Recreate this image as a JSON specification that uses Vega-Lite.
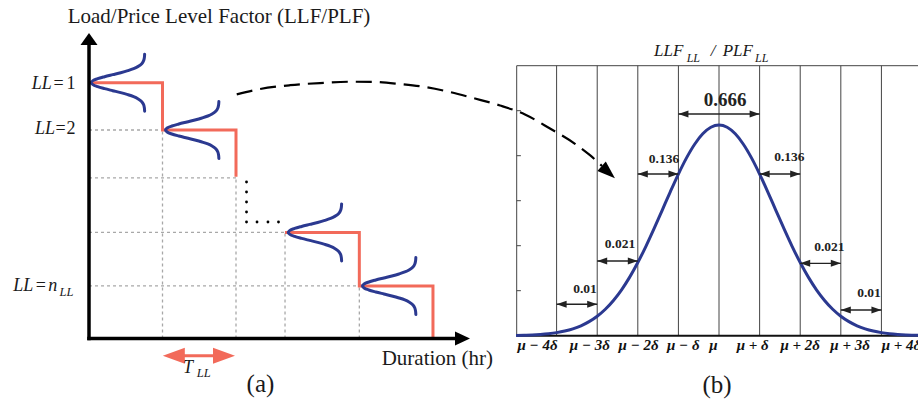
{
  "$schema": "https://vega.github.io/schema/vega-lite/v6.json",
  "padding": 0,
  "spacing": 0,
  "bounds": "flush",
  "background": "white",
  "config": {"view": {"stroke": null}, "font": "Liberation Serif", "text": {"font": "Liberation Serif"}},
  "hconcat": [
    {
      "width": 505,
      "height": 403,
      "layer": [
        {
          "data": {"values": [
            {"x": 0, "x2": 1.0, "y": 4.01, "y2": 4.01},
            {"x": 0, "x2": 2.0, "y": 3.09, "y2": 3.09},
            {"x": 0, "x2": 2.667, "y": 2.04, "y2": 2.04},
            {"x": 0, "x2": 3.678, "y": 1.01, "y2": 1.01},
            {"x": 1.0, "x2": 1.0, "y": 0, "y2": 4.01},
            {"x": 2.0, "x2": 2.0, "y": 0, "y2": 3.09},
            {"x": 2.667, "x2": 2.667, "y": 0, "y2": 2.04},
            {"x": 3.678, "x2": 3.678, "y": 0, "y2": 1.01}
          ]},
          "mark": {"type": "rule", "color": "#a8a8a8", "strokeWidth": 1.3, "strokeDash": [3, 3]},
          "encoding": {
            "x": {"field": "x", "type": "quantitative", "scale": {"domain": [-1.211, 5.66], "nice": false, "zero": false}, "axis": null},
            "x2": {"field": "x2"},
            "y": {"field": "y", "type": "quantitative", "scale": {"domain": [-1.241, 6.51], "nice": false, "zero": false}, "axis": null},
            "y2": {"field": "y2"}
          }
        },
        {
          "data": {"values": [
            {"s": 1, "i": 0, "x": 0, "y": 4.92},
            {"s": 1, "i": 1, "x": 1.0, "y": 4.92},
            {"s": 1, "i": 2, "x": 1.0, "y": 4.01},
            {"s": 1, "i": 3, "x": 2.0, "y": 4.01},
            {"s": 1, "i": 4, "x": 2.0, "y": 3.11},
            {"s": 2, "i": 0, "x": 2.667, "y": 2.04},
            {"s": 2, "i": 1, "x": 3.678, "y": 2.04},
            {"s": 2, "i": 2, "x": 3.678, "y": 1.01},
            {"s": 2, "i": 3, "x": 4.68, "y": 1.01},
            {"s": 2, "i": 4, "x": 4.68, "y": 0}
          ]},
          "mark": {"type": "line", "color": "#f26a5a", "strokeWidth": 3, "strokeJoin": "miter"},
          "encoding": {
            "x": {"field": "x", "type": "quantitative", "scale": {"domain": [-1.211, 5.66], "nice": false, "zero": false}, "axis": null},
            "y": {"field": "y", "type": "quantitative", "scale": {"domain": [-1.241, 6.51], "nice": false, "zero": false}, "axis": null},
            "detail": {"field": "s", "type": "nominal"},
            "order": {"field": "i", "type": "quantitative"}
          }
        },
        {
          "data": {"values": [
            {"c": 1, "i": 0, "x": 0.757, "y": 5.468}, {"c": 1, "i": 1, "x": 0.753, "y": 5.401}, {"c": 1, "i": 2, "x": 0.743, "y": 5.343}, {"c": 1, "i": 3, "x": 0.718, "y": 5.285}, {"c": 1, "i": 4, "x": 0.664, "y": 5.228},
            {"c": 1, "i": 5, "x": 0.607, "y": 5.189}, {"c": 1, "i": 6, "x": 0.528, "y": 5.151}, {"c": 1, "i": 7, "x": 0.431, "y": 5.112}, {"c": 1, "i": 8, "x": 0.322, "y": 5.074}, {"c": 1, "i": 9, "x": 0.212, "y": 5.035},
            {"c": 1, "i": 10, "x": 0.118, "y": 4.997}, {"c": 1, "i": 11, "x": 0.053, "y": 4.959}, {"c": 1, "i": 12, "x": 0.03, "y": 4.92}, {"c": 1, "i": 13, "x": 0.053, "y": 4.882}, {"c": 1, "i": 14, "x": 0.118, "y": 4.843},
            {"c": 1, "i": 15, "x": 0.212, "y": 4.805}, {"c": 1, "i": 16, "x": 0.322, "y": 4.766}, {"c": 1, "i": 17, "x": 0.431, "y": 4.728}, {"c": 1, "i": 18, "x": 0.528, "y": 4.689}, {"c": 1, "i": 19, "x": 0.607, "y": 4.651},
            {"c": 1, "i": 20, "x": 0.664, "y": 4.612}, {"c": 1, "i": 21, "x": 0.718, "y": 4.555}, {"c": 1, "i": 22, "x": 0.743, "y": 4.497}, {"c": 1, "i": 23, "x": 0.753, "y": 4.439}, {"c": 1, "i": 24, "x": 0.757, "y": 4.372},

            {"c": 2, "i": 0, "x": 1.767, "y": 4.558}, {"c": 2, "i": 1, "x": 1.763, "y": 4.491}, {"c": 2, "i": 2, "x": 1.753, "y": 4.433}, {"c": 2, "i": 3, "x": 1.728, "y": 4.375}, {"c": 2, "i": 4, "x": 1.674, "y": 4.318},
            {"c": 2, "i": 5, "x": 1.617, "y": 4.279}, {"c": 2, "i": 6, "x": 1.538, "y": 4.241}, {"c": 2, "i": 7, "x": 1.441, "y": 4.202}, {"c": 2, "i": 8, "x": 1.332, "y": 4.164}, {"c": 2, "i": 9, "x": 1.222, "y": 4.125},
            {"c": 2, "i": 10, "x": 1.128, "y": 4.087}, {"c": 2, "i": 11, "x": 1.063, "y": 4.049}, {"c": 2, "i": 12, "x": 1.04, "y": 4.01}, {"c": 2, "i": 13, "x": 1.063, "y": 3.972}, {"c": 2, "i": 14, "x": 1.128, "y": 3.933},
            {"c": 2, "i": 15, "x": 1.222, "y": 3.895}, {"c": 2, "i": 16, "x": 1.332, "y": 3.856}, {"c": 2, "i": 17, "x": 1.441, "y": 3.818}, {"c": 2, "i": 18, "x": 1.538, "y": 3.779}, {"c": 2, "i": 19, "x": 1.617, "y": 3.741},
            {"c": 2, "i": 20, "x": 1.674, "y": 3.702}, {"c": 2, "i": 21, "x": 1.728, "y": 3.645}, {"c": 2, "i": 22, "x": 1.753, "y": 3.587}, {"c": 2, "i": 23, "x": 1.763, "y": 3.529}, {"c": 2, "i": 24, "x": 1.767, "y": 3.462},

            {"c": 3, "i": 0, "x": 3.437, "y": 2.588}, {"c": 3, "i": 1, "x": 3.433, "y": 2.521}, {"c": 3, "i": 2, "x": 3.423, "y": 2.463}, {"c": 3, "i": 3, "x": 3.398, "y": 2.405}, {"c": 3, "i": 4, "x": 3.344, "y": 2.348},
            {"c": 3, "i": 5, "x": 3.287, "y": 2.309}, {"c": 3, "i": 6, "x": 3.208, "y": 2.271}, {"c": 3, "i": 7, "x": 3.111, "y": 2.232}, {"c": 3, "i": 8, "x": 3.002, "y": 2.194}, {"c": 3, "i": 9, "x": 2.892, "y": 2.155},
            {"c": 3, "i": 10, "x": 2.798, "y": 2.117}, {"c": 3, "i": 11, "x": 2.733, "y": 2.079}, {"c": 3, "i": 12, "x": 2.71, "y": 2.04}, {"c": 3, "i": 13, "x": 2.733, "y": 2.002}, {"c": 3, "i": 14, "x": 2.798, "y": 1.963},
            {"c": 3, "i": 15, "x": 2.892, "y": 1.925}, {"c": 3, "i": 16, "x": 3.002, "y": 1.886}, {"c": 3, "i": 17, "x": 3.111, "y": 1.848}, {"c": 3, "i": 18, "x": 3.208, "y": 1.809}, {"c": 3, "i": 19, "x": 3.287, "y": 1.771},
            {"c": 3, "i": 20, "x": 3.344, "y": 1.732}, {"c": 3, "i": 21, "x": 3.398, "y": 1.675}, {"c": 3, "i": 22, "x": 3.423, "y": 1.617}, {"c": 3, "i": 23, "x": 3.433, "y": 1.559}, {"c": 3, "i": 24, "x": 3.437, "y": 1.492},

            {"c": 4, "i": 0, "x": 4.447, "y": 1.558}, {"c": 4, "i": 1, "x": 4.443, "y": 1.491}, {"c": 4, "i": 2, "x": 4.433, "y": 1.433}, {"c": 4, "i": 3, "x": 4.408, "y": 1.375}, {"c": 4, "i": 4, "x": 4.354, "y": 1.318},
            {"c": 4, "i": 5, "x": 4.297, "y": 1.279}, {"c": 4, "i": 6, "x": 4.218, "y": 1.241}, {"c": 4, "i": 7, "x": 4.121, "y": 1.202}, {"c": 4, "i": 8, "x": 4.012, "y": 1.164}, {"c": 4, "i": 9, "x": 3.902, "y": 1.125},
            {"c": 4, "i": 10, "x": 3.808, "y": 1.087}, {"c": 4, "i": 11, "x": 3.743, "y": 1.049}, {"c": 4, "i": 12, "x": 3.72, "y": 1.01}, {"c": 4, "i": 13, "x": 3.743, "y": 0.972}, {"c": 4, "i": 14, "x": 3.808, "y": 0.933},
            {"c": 4, "i": 15, "x": 3.902, "y": 0.895}, {"c": 4, "i": 16, "x": 4.012, "y": 0.856}, {"c": 4, "i": 17, "x": 4.121, "y": 0.818}, {"c": 4, "i": 18, "x": 4.218, "y": 0.779}, {"c": 4, "i": 19, "x": 4.297, "y": 0.741},
            {"c": 4, "i": 20, "x": 4.354, "y": 0.702}, {"c": 4, "i": 21, "x": 4.408, "y": 0.645}, {"c": 4, "i": 22, "x": 4.433, "y": 0.587}, {"c": 4, "i": 23, "x": 4.443, "y": 0.529}, {"c": 4, "i": 24, "x": 4.447, "y": 0.462}
          ]},
          "mark": {"type": "line", "color": "#2b3990", "strokeWidth": 3, "strokeCap": "round", "interpolate": "catmull-rom"},
          "encoding": {
            "x": {"field": "x", "type": "quantitative", "scale": {"domain": [-1.211, 5.66], "nice": false, "zero": false}, "axis": null},
            "y": {"field": "y", "type": "quantitative", "scale": {"domain": [-1.241, 6.51], "nice": false, "zero": false}, "axis": null},
            "detail": {"field": "c", "type": "nominal"},
            "order": {"field": "i", "type": "quantitative"}
          }
        },
        {
          "data": {"values": [
            {"x": 2.143, "y": 3.010}, {"x": 2.143, "y": 2.817}, {"x": 2.143, "y": 2.625}, {"x": 2.143, "y": 2.433},
            {"x": 2.143, "y": 2.240}, {"x": 2.286, "y": 2.240}, {"x": 2.435, "y": 2.240}, {"x": 2.578, "y": 2.240}
          ]},
          "mark": {"type": "point", "filled": true, "color": "#000000", "size": 8, "opacity": 1},
          "encoding": {
            "x": {"field": "x", "type": "quantitative", "scale": {"domain": [-1.211, 5.66], "nice": false, "zero": false}, "axis": null},
            "y": {"field": "y", "type": "quantitative", "scale": {"domain": [-1.241, 6.51], "nice": false, "zero": false}, "axis": null}
          }
        },
        {
          "data": {"values": [
            {"x": -0.024, "x2": 5.0, "y": 0, "y2": 0},
            {"x": 0, "x2": 0, "y": -0.034, "y2": 5.7}
          ]},
          "mark": {"type": "rule", "color": "#000000", "strokeWidth": 3.5},
          "encoding": {
            "x": {"field": "x", "type": "quantitative", "scale": {"domain": [-1.211, 5.66], "nice": false, "zero": false}, "axis": null},
            "x2": {"field": "x2"},
            "y": {"field": "y", "type": "quantitative", "scale": {"domain": [-1.241, 6.51], "nice": false, "zero": false}, "axis": null},
            "y2": {"field": "y2"}
          }
        },
        {
          "data": {"values": [{"x": 0, "y": 5.875}]},
          "mark": {"type": "point", "filled": true, "color": "#000000", "opacity": 1, "shape": "M0,0L-1.42,2L1.42,2Z", "size": 144},
          "encoding": {
            "x": {"field": "x", "type": "quantitative", "scale": {"domain": [-1.211, 5.66], "nice": false, "zero": false}, "axis": null},
            "y": {"field": "y", "type": "quantitative", "scale": {"domain": [-1.241, 6.51], "nice": false, "zero": false}, "axis": null}
          }
        },
        {
          "data": {"values": [{"x": 5.184, "y": 0}]},
          "mark": {"type": "point", "filled": true, "color": "#000000", "opacity": 1, "shape": "M0,0L-2,-0.93L-2,0.93Z", "size": 225},
          "encoding": {
            "x": {"field": "x", "type": "quantitative", "scale": {"domain": [-1.211, 5.66], "nice": false, "zero": false}, "axis": null},
            "y": {"field": "y", "type": "quantitative", "scale": {"domain": [-1.241, 6.51], "nice": false, "zero": false}, "axis": null}
          }
        },
        {
          "data": {"values": [{"x": 1.15, "x2": 1.84, "y": -0.331}]},
          "mark": {"type": "rule", "color": "#f26a5a", "strokeWidth": 3},
          "encoding": {
            "x": {"field": "x", "type": "quantitative", "scale": {"domain": [-1.211, 5.66], "nice": false, "zero": false}, "axis": null},
            "x2": {"field": "x2"},
            "y": {"field": "y", "type": "quantitative", "scale": {"domain": [-1.241, 6.51], "nice": false, "zero": false}, "axis": null}
          }
        },
        {
          "data": {"values": [{"x": 1.004, "y": -0.331}]},
          "mark": {"type": "point", "filled": true, "color": "#f26a5a", "opacity": 1, "shape": "M0,0L2,-0.73L2,0.73Z", "size": 484},
          "encoding": {
            "x": {"field": "x", "type": "quantitative", "scale": {"domain": [-1.211, 5.66], "nice": false, "zero": false}, "axis": null},
            "y": {"field": "y", "type": "quantitative", "scale": {"domain": [-1.241, 6.51], "nice": false, "zero": false}, "axis": null}
          }
        },
        {
          "data": {"values": [{"x": 1.986, "y": -0.331}]},
          "mark": {"type": "point", "filled": true, "color": "#f26a5a", "opacity": 1, "shape": "M0,0L-2,-0.73L-2,0.73Z", "size": 484},
          "encoding": {
            "x": {"field": "x", "type": "quantitative", "scale": {"domain": [-1.211, 5.66], "nice": false, "zero": false}, "axis": null},
            "y": {"field": "y", "type": "quantitative", "scale": {"domain": [-1.241, 6.51], "nice": false, "zero": false}, "axis": null}
          }
        },
        {
          "data": {"values": [
            {"x": 2.010, "y": 4.696}, {"x": 2.327, "y": 4.798}, {"x": 2.735, "y": 4.871}, {"x": 3.143, "y": 4.913},
            {"x": 3.551, "y": 4.938}, {"x": 3.891, "y": 4.933}, {"x": 4.231, "y": 4.894}, {"x": 4.571, "y": 4.837},
            {"x": 4.912, "y": 4.740}, {"x": 5.252, "y": 4.615}, {"x": 5.592, "y": 4.481}, {"x": 5.932, "y": 4.308},
            {"x": 6.272, "y": 4.038}, {"x": 6.612, "y": 3.744}, {"x": 6.816, "y": 3.525}, {"x": 6.980, "y": 3.317}
          ]},
          "mark": {"type": "line", "color": "#000000", "strokeWidth": 2.2, "strokeDash": [16, 8], "interpolate": "monotone", "clip": false},
          "encoding": {
            "x": {"field": "x", "type": "quantitative", "scale": {"domain": [-1.211, 5.66], "nice": false, "zero": false}, "axis": null},
            "y": {"field": "y", "type": "quantitative", "scale": {"domain": [-1.241, 6.51], "nice": false, "zero": false}, "axis": null}
          }
        },
        {
          "data": {"values": [{"x": 7.156, "y": 3.081}]},
          "mark": {"type": "point", "filled": true, "color": "#000000", "opacity": 1, "shape": "M0,0L-2,-0.7L-2,0.7Z", "size": 324, "angle": 42, "clip": false},
          "encoding": {
            "x": {"field": "x", "type": "quantitative", "scale": {"domain": [-1.211, 5.66], "nice": false, "zero": false}, "axis": null},
            "y": {"field": "y", "type": "quantitative", "scale": {"domain": [-1.241, 6.51], "nice": false, "zero": false}, "axis": null}
          }
        },
        {
          "data": {"values": [
            {"t": "Load/Price Level Factor (LLF/PLF)", "x": -0.29, "y": 6.067},
            {"t": "Duration (hr)", "x": 3.982, "y": -0.51}
          ]},
          "mark": {"type": "text", "align": "left", "baseline": "alphabetic", "fontSize": 21, "font": "Liberation Serif", "color": "#1a1a1a"},
          "encoding": {
            "x": {"field": "x", "type": "quantitative", "scale": {"domain": [-1.211, 5.66], "nice": false, "zero": false}, "axis": null},
            "y": {"field": "y", "type": "quantitative", "scale": {"domain": [-1.241, 6.51], "nice": false, "zero": false}, "axis": null},
            "text": {"field": "t"}
          }
        },
        {
          "data": {"values": [
            {"t": "LL", "x": -0.508, "y": 4.792},
            {"t": "LL", "x": -0.463, "y": 3.942},
            {"t": "LL", "x": -0.759, "y": 0.913}
          ]},
          "mark": {"type": "text", "align": "right", "baseline": "alphabetic", "fontSize": 18, "fontStyle": "italic", "font": "Liberation Serif", "color": "#1a1a1a"},
          "encoding": {
            "x": {"field": "x", "type": "quantitative", "scale": {"domain": [-1.211, 5.66], "nice": false, "zero": false}, "axis": null},
            "y": {"field": "y", "type": "quantitative", "scale": {"domain": [-1.241, 6.51], "nice": false, "zero": false}, "axis": null},
            "text": {"field": "t"}
          }
        },
        {
          "data": {"values": [
            {"t": "=", "x": -0.415, "y": 4.792},
            {"t": "1", "x": -0.245, "y": 4.792},
            {"t": "=", "x": -0.388, "y": 3.942},
            {"t": "2", "x": -0.245, "y": 3.942},
            {"t": "=", "x": -0.655, "y": 0.913}
          ]},
          "mark": {"type": "text", "align": "center", "baseline": "alphabetic", "fontSize": 18, "font": "Liberation Serif", "color": "#1a1a1a"},
          "encoding": {
            "x": {"field": "x", "type": "quantitative", "scale": {"domain": [-1.211, 5.66], "nice": false, "zero": false}, "axis": null},
            "y": {"field": "y", "type": "quantitative", "scale": {"domain": [-1.241, 6.51], "nice": false, "zero": false}, "axis": null},
            "text": {"field": "t"}
          }
        },
        {
          "data": {"values": [
            {"t": "n", "x": -0.555, "y": 0.913},
            {"t": "T", "x": 1.279, "y": -0.669}
          ]},
          "mark": {"type": "text", "align": "left", "baseline": "alphabetic", "fontSize": 18, "fontStyle": "italic", "font": "Liberation Serif", "color": "#1a1a1a"},
          "encoding": {
            "x": {"field": "x", "type": "quantitative", "scale": {"domain": [-1.211, 5.66], "nice": false, "zero": false}, "axis": null},
            "y": {"field": "y", "type": "quantitative", "scale": {"domain": [-1.241, 6.51], "nice": false, "zero": false}, "axis": null},
            "text": {"field": "t"}
          }
        },
        {
          "data": {"values": [
            {"t": "LL", "x": -0.401, "y": 0.808},
            {"t": "LL", "x": 1.465, "y": -0.735}
          ]},
          "mark": {"type": "text", "align": "left", "baseline": "alphabetic", "fontSize": 12.5, "fontStyle": "italic", "font": "Liberation Serif", "color": "#1a1a1a"},
          "encoding": {
            "x": {"field": "x", "type": "quantitative", "scale": {"domain": [-1.211, 5.66], "nice": false, "zero": false}, "axis": null},
            "y": {"field": "y", "type": "quantitative", "scale": {"domain": [-1.241, 6.51], "nice": false, "zero": false}, "axis": null},
            "text": {"field": "t"}
          }
        },
        {
          "data": {"values": [{"t": "(a)", "x": 2.333, "y": -1.023}]},
          "mark": {"type": "text", "align": "center", "baseline": "alphabetic", "fontSize": 25, "font": "Liberation Serif", "color": "#1a1a1a"},
          "encoding": {
            "x": {"field": "x", "type": "quantitative", "scale": {"domain": [-1.211, 5.66], "nice": false, "zero": false}, "axis": null},
            "y": {"field": "y", "type": "quantitative", "scale": {"domain": [-1.241, 6.51], "nice": false, "zero": false}, "axis": null},
            "text": {"field": "t"}
          }
        }
      ]
    },
    {
      "width": 413,
      "height": 403,
      "layer": [
        {
          "data": {"values": [
            {"x": -4, "y": 0, "y2": 0.6}, {"x": -3, "y": 0, "y2": 0.6}, {"x": -2, "y": 0, "y2": 0.6},
            {"x": -1, "y": 0, "y2": 0.6}, {"x": 0, "y": 0, "y2": 0.6}, {"x": 1, "y": 0, "y2": 0.6},
            {"x": 2, "y": 0, "y2": 0.6}, {"x": 3, "y": 0, "y2": 0.6}, {"x": 4, "y": 0, "y2": 0.6},
            {"x": -4.983, "y": 0, "y2": 0.6}
          ]},
          "mark": {"type": "rule", "color": "#444444", "strokeWidth": 1},
          "encoding": {
            "x": {"field": "x", "type": "quantitative", "scale": {"domain": [-5.271, 4.901], "nice": false, "zero": false}, "axis": null},
            "y": {"field": "y", "type": "quantitative", "scale": {"domain": [-0.1496, 0.746], "nice": false, "zero": false}, "axis": null},
            "y2": {"field": "y2"}
          }
        },
        {
          "data": {"values": [
            {"x": -4.983, "x2": 4.901, "y": 0.6},
            {"x": -4.983, "x2": -4.88, "y": 0.1},
            {"x": -4.983, "x2": -4.88, "y": 0.2},
            {"x": -4.983, "x2": -4.88, "y": 0.3},
            {"x": -4.983, "x2": -4.88, "y": 0.4},
            {"x": -4.983, "x2": -4.88, "y": 0.5}
          ]},
          "mark": {"type": "rule", "color": "#444444", "strokeWidth": 1},
          "encoding": {
            "x": {"field": "x", "type": "quantitative", "scale": {"domain": [-5.271, 4.901], "nice": false, "zero": false}, "axis": null},
            "x2": {"field": "x2"},
            "y": {"field": "y", "type": "quantitative", "scale": {"domain": [-0.1496, 0.746], "nice": false, "zero": false}, "axis": null}
          }
        },
        {
          "data": {"values": [{"x": -4.983, "x2": 4.901, "y": 0}]},
          "mark": {"type": "rule", "color": "#111111", "strokeWidth": 2},
          "encoding": {
            "x": {"field": "x", "type": "quantitative", "scale": {"domain": [-5.271, 4.901], "nice": false, "zero": false}, "axis": null},
            "x2": {"field": "x2"},
            "y": {"field": "y", "type": "quantitative", "scale": {"domain": [-0.1496, 0.746], "nice": false, "zero": false}, "axis": null}
          }
        },
        {
          "data": {"values": [
            {"x": -5.0, "y": 0.0006}, {"x": -4.8, "y": 0.0011}, {"x": -4.6, "y": 0.0017}, {"x": -4.4, "y": 0.0028}, {"x": -4.2, "y": 0.0044},
            {"x": -4.0, "y": 0.0068}, {"x": -3.8, "y": 0.0103}, {"x": -3.6, "y": 0.0152}, {"x": -3.4, "y": 0.022}, {"x": -3.2, "y": 0.0312},
            {"x": -3.0, "y": 0.0433}, {"x": -2.8, "y": 0.0588}, {"x": -2.6, "y": 0.0783}, {"x": -2.4, "y": 0.102}, {"x": -2.2, "y": 0.1301},
            {"x": -2.0, "y": 0.1625}, {"x": -1.8, "y": 0.1986}, {"x": -1.6, "y": 0.2378}, {"x": -1.4, "y": 0.2787}, {"x": -1.2, "y": 0.3198},
            {"x": -1.0, "y": 0.3592}, {"x": -0.8, "y": 0.3951}, {"x": -0.6, "y": 0.4255}, {"x": -0.4, "y": 0.4486}, {"x": -0.2, "y": 0.4631},
            {"x": 0.0, "y": 0.468},
            {"x": 0.2, "y": 0.4631}, {"x": 0.4, "y": 0.4486}, {"x": 0.6, "y": 0.4255}, {"x": 0.8, "y": 0.3951}, {"x": 1.0, "y": 0.3592},
            {"x": 1.2, "y": 0.3198}, {"x": 1.4, "y": 0.2787}, {"x": 1.6, "y": 0.2378}, {"x": 1.8, "y": 0.1986}, {"x": 2.0, "y": 0.1625},
            {"x": 2.2, "y": 0.1301}, {"x": 2.4, "y": 0.102}, {"x": 2.6, "y": 0.0783}, {"x": 2.8, "y": 0.0588}, {"x": 3.0, "y": 0.0433},
            {"x": 3.2, "y": 0.0312}, {"x": 3.4, "y": 0.022}, {"x": 3.6, "y": 0.0152}, {"x": 3.8, "y": 0.0103}, {"x": 4.0, "y": 0.0068},
            {"x": 4.2, "y": 0.0044}, {"x": 4.4, "y": 0.0028}, {"x": 4.6, "y": 0.0017}, {"x": 4.8, "y": 0.0011}, {"x": 5.0, "y": 0.0006}
          ]},
          "mark": {"type": "line", "color": "#2b3990", "strokeWidth": 3, "interpolate": "monotone", "clip": true},
          "encoding": {
            "x": {"field": "x", "type": "quantitative", "scale": {"domain": [-5.271, 4.901], "nice": false, "zero": false}, "axis": null},
            "y": {"field": "y", "type": "quantitative", "scale": {"domain": [-0.1496, 0.746], "nice": false, "zero": false}, "axis": null}
          }
        },
        {
          "data": {"name": "spans", "values": [
            {"x": -1, "x2": 1, "y": 0.4927},
            {"x": -2, "x2": -1, "y": 0.3593},
            {"x": 1, "x2": 2, "y": 0.3593},
            {"x": -3, "x2": -2, "y": 0.166},
            {"x": 2, "x2": 3, "y": 0.1609},
            {"x": -4, "x2": -3, "y": 0.0698},
            {"x": 3, "x2": 4, "y": 0.0571}
          ]},
          "layer": [
            {
              "mark": {"type": "rule", "color": "#222222", "strokeWidth": 1.3},
              "encoding": {
                "x": {"field": "x", "type": "quantitative", "scale": {"domain": [-5.271, 4.901], "nice": false, "zero": false}, "axis": null},
                "x2": {"field": "x2"},
                "y": {"field": "y", "type": "quantitative", "scale": {"domain": [-0.1496, 0.746], "nice": false, "zero": false}, "axis": null}
              }
            },
            {
              "mark": {"type": "point", "filled": true, "color": "#222222", "opacity": 1, "shape": "M0,0L2,-0.7L2,0.7Z", "size": 100},
              "encoding": {
                "x": {"field": "x", "type": "quantitative", "scale": {"domain": [-5.271, 4.901], "nice": false, "zero": false}, "axis": null},
                "y": {"field": "y", "type": "quantitative", "scale": {"domain": [-0.1496, 0.746], "nice": false, "zero": false}, "axis": null}
              }
            },
            {
              "mark": {"type": "point", "filled": true, "color": "#222222", "opacity": 1, "shape": "M0,0L-2,-0.7L-2,0.7Z", "size": 100},
              "encoding": {
                "x": {"field": "x2", "type": "quantitative", "scale": {"domain": [-5.271, 4.901], "nice": false, "zero": false}, "axis": null},
                "y": {"field": "y", "type": "quantitative", "scale": {"domain": [-0.1496, 0.746], "nice": false, "zero": false}, "axis": null}
              }
            }
          ]
        },
        {
          "data": {"values": [{"t": "0.666", "x": 0.148, "y": 0.5104}]},
          "mark": {"type": "text", "align": "center", "baseline": "alphabetic", "fontSize": 19, "fontWeight": "bold", "font": "Liberation Serif", "color": "#222222"},
          "encoding": {
            "x": {"field": "x", "type": "quantitative", "scale": {"domain": [-5.271, 4.901], "nice": false, "zero": false}, "axis": null},
            "y": {"field": "y", "type": "quantitative", "scale": {"domain": [-0.1496, 0.746], "nice": false, "zero": false}, "axis": null},
            "text": {"field": "t"}
          }
        },
        {
          "data": {"values": [
            {"t": "0.136", "x": -1.355, "y": 0.3844},
            {"t": "0.136", "x": 1.732, "y": 0.3889},
            {"t": "0.021", "x": -2.438, "y": 0.1942},
            {"t": "0.021", "x": 2.717, "y": 0.1889},
            {"t": "0.01", "x": -3.3, "y": 0.0956},
            {"t": "0.01", "x": 3.695, "y": 0.0867}
          ]},
          "mark": {"type": "text", "align": "center", "baseline": "alphabetic", "fontSize": 13.5, "fontWeight": "bold", "font": "Liberation Serif", "color": "#222222"},
          "encoding": {
            "x": {"field": "x", "type": "quantitative", "scale": {"domain": [-5.271, 4.901], "nice": false, "zero": false}, "axis": null},
            "y": {"field": "y", "type": "quantitative", "scale": {"domain": [-0.1496, 0.746], "nice": false, "zero": false}, "axis": null},
            "text": {"field": "t"}
          }
        },
        {
          "data": {"values": [
            {"t": "μ − 4δ", "x": -4.47, "y": -0.0318},
            {"t": "μ − 3δ", "x": -3.18, "y": -0.0318},
            {"t": "μ − 2δ", "x": -1.98, "y": -0.0318},
            {"t": "μ − δ", "x": -0.88, "y": -0.0318},
            {"t": "μ", "x": -0.14, "y": -0.0318},
            {"t": "μ + δ", "x": 0.83, "y": -0.0318},
            {"t": "μ + 2δ", "x": 2.0, "y": -0.0318},
            {"t": "μ + 3δ", "x": 3.23, "y": -0.0318}
          ]},
          "mark": {"type": "text", "align": "center", "baseline": "alphabetic", "fontSize": 15, "fontWeight": "bold", "fontStyle": "italic", "font": "Liberation Serif", "color": "#111111"},
          "encoding": {
            "x": {"field": "x", "type": "quantitative", "scale": {"domain": [-5.271, 4.901], "nice": false, "zero": false}, "axis": null},
            "y": {"field": "y", "type": "quantitative", "scale": {"domain": [-0.1496, 0.746], "nice": false, "zero": false}, "axis": null},
            "text": {"field": "t"}
          }
        },
        {
          "data": {"values": [{"t": "μ + 4δ", "x": 4.007, "y": -0.0318}]},
          "mark": {"type": "text", "align": "left", "baseline": "alphabetic", "fontSize": 15, "fontWeight": "bold", "fontStyle": "italic", "font": "Liberation Serif", "color": "#111111"},
          "encoding": {
            "x": {"field": "x", "type": "quantitative", "scale": {"domain": [-5.271, 4.901], "nice": false, "zero": false}, "axis": null},
            "y": {"field": "y", "type": "quantitative", "scale": {"domain": [-0.1496, 0.746], "nice": false, "zero": false}, "axis": null},
            "text": {"field": "t"}
          }
        },
        {
          "data": {"values": [
            {"t": "LLF", "x": -1.601, "y": 0.6216},
            {"t": "PLF", "x": 0.091, "y": 0.6216}
          ]},
          "mark": {"type": "text", "align": "left", "baseline": "alphabetic", "fontSize": 17, "fontStyle": "italic", "font": "Liberation Serif", "color": "#1a1a1a"},
          "encoding": {
            "x": {"field": "x", "type": "quantitative", "scale": {"domain": [-5.271, 4.901], "nice": false, "zero": false}, "axis": null},
            "y": {"field": "y", "type": "quantitative", "scale": {"domain": [-0.1496, 0.746], "nice": false, "zero": false}, "axis": null},
            "text": {"field": "t"}
          }
        },
        {
          "data": {"values": [
            {"t": "LL", "x": -0.796, "y": 0.6089},
            {"t": "LL", "x": 0.887, "y": 0.6089}
          ]},
          "mark": {"type": "text", "align": "left", "baseline": "alphabetic", "fontSize": 12, "fontStyle": "italic", "font": "Liberation Serif", "color": "#1a1a1a"},
          "encoding": {
            "x": {"field": "x", "type": "quantitative", "scale": {"domain": [-5.271, 4.901], "nice": false, "zero": false}, "axis": null},
            "y": {"field": "y", "type": "quantitative", "scale": {"domain": [-0.1496, 0.746], "nice": false, "zero": false}, "axis": null},
            "text": {"field": "t"}
          }
        },
        {
          "data": {"values": [{"t": "/", "x": -0.148, "y": 0.6216}]},
          "mark": {"type": "text", "align": "center", "baseline": "alphabetic", "fontSize": 17, "fontStyle": "italic", "font": "Liberation Serif", "color": "#1a1a1a"},
          "encoding": {
            "x": {"field": "x", "type": "quantitative", "scale": {"domain": [-5.271, 4.901], "nice": false, "zero": false}, "axis": null},
            "y": {"field": "y", "type": "quantitative", "scale": {"domain": [-0.1496, 0.746], "nice": false, "zero": false}, "axis": null},
            "text": {"field": "t"}
          }
        },
        {
          "data": {"values": [{"t": "(b)", "x": -0.049, "y": -0.1273}]},
          "mark": {"type": "text", "align": "center", "baseline": "alphabetic", "fontSize": 25, "font": "Liberation Serif", "color": "#1a1a1a"},
          "encoding": {
            "x": {"field": "x", "type": "quantitative", "scale": {"domain": [-5.271, 4.901], "nice": false, "zero": false}, "axis": null},
            "y": {"field": "y", "type": "quantitative", "scale": {"domain": [-0.1496, 0.746], "nice": false, "zero": false}, "axis": null},
            "text": {"field": "t"}
          }
        }
      ]
    }
  ]
}
